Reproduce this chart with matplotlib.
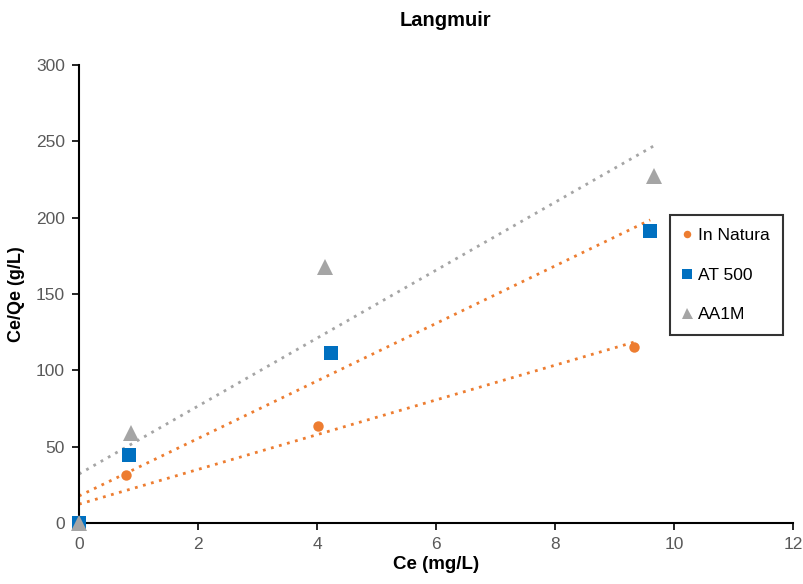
import numpy as np
import matplotlib
matplotlib.use("Agg")
import matplotlib.pyplot as plt

plt.rcParams['font.family'] = ['Liberation Sans', 'DejaVu Sans']

series_names = ["In Natura", "AT 500", "AA1M"]
x_natura = [0, 0.79, 4.02, 9.33]
y_natura = [0, 31.4, 63.5, 115.3]
x_at500 = [0, 0.84, 4.24, 9.6]
y_at500 = [0, 44.5, 111.3, 191.5]
x_aa1m = [0, 0.87, 4.13, 9.66]
y_aa1m = [0, 59, 168, 227.5]

colors = ["#ED7D31", "#0070C0", "#A5A5A5"]
trend_colors = ["#ED7D31", "#ED7D31", "#A5A5A5"]
markers = ["o", "s", "^"]
msizes = [7.5, 9.5, 11]

fig = plt.figure(figsize=(8.04, 5.84), dpi=100)
ax = fig.add_axes([79/804, 1-523/584, (793-79)/804, (523-65)/584])

data = [(x_natura, y_natura), (x_at500, y_at500), (x_aa1m, y_aa1m)]
for (xs, ys), tc in zip(data, trend_colors):
    xs = np.array(xs); ys = np.array(ys)
    slope, inter = np.polyfit(xs, ys, 1)
    xl = np.array([0, xs.max()])
    ax.plot(xl, slope*xl + inter, linestyle=(0, (1, 2)), color=tc, lw=2, zorder=2)
for (xs, ys), name, c, m, ms in zip(data, series_names, colors, markers, msizes):
    ax.plot(xs, ys, linestyle='none', marker=m, color=c, markersize=ms,
            markeredgewidth=0, label=name, zorder=3, clip_on=False)

ax.set_xlim(0, 12)
ax.set_ylim(0, 300)
ax.set_xticks(range(0, 13, 2))
ax.set_yticks(range(0, 301, 50))
for s in ["top", "right"]:
    ax.spines[s].set_visible(False)
for s in ["left", "bottom"]:
    ax.spines[s].set_color("black")
    ax.spines[s].set_linewidth(1.5)
ax.tick_params(axis='both', direction='out', length=5, width=1.2, color='black',
               labelsize=12.5, labelcolor='#595959', pad=5)
ax.set_xlabel("Ce (mg/L)", fontsize=13.5, fontweight='bold', labelpad=3)
ax.set_ylabel("Ce/Qe (g/L)", fontsize=13, fontweight='bold', labelpad=8)
fig.text(445.5/804, 1 - 21/584, "Langmuir", ha='center', va='center',
         fontsize=14.5, fontweight='bold')

leg = ax.legend(loc='upper left', bbox_to_anchor=(670/804, 1 - 215/584),
                bbox_transform=fig.transFigure,
                frameon=True, fancybox=False, edgecolor='black', fontsize=12.5,
                labelspacing=1.4, handlelength=0.5, handletextpad=0.35, borderpad=0.75,
                borderaxespad=0, markerscale=0.72)
leg.get_frame().set_linewidth(1.5)

fig.savefig("out.png", dpi=100)
